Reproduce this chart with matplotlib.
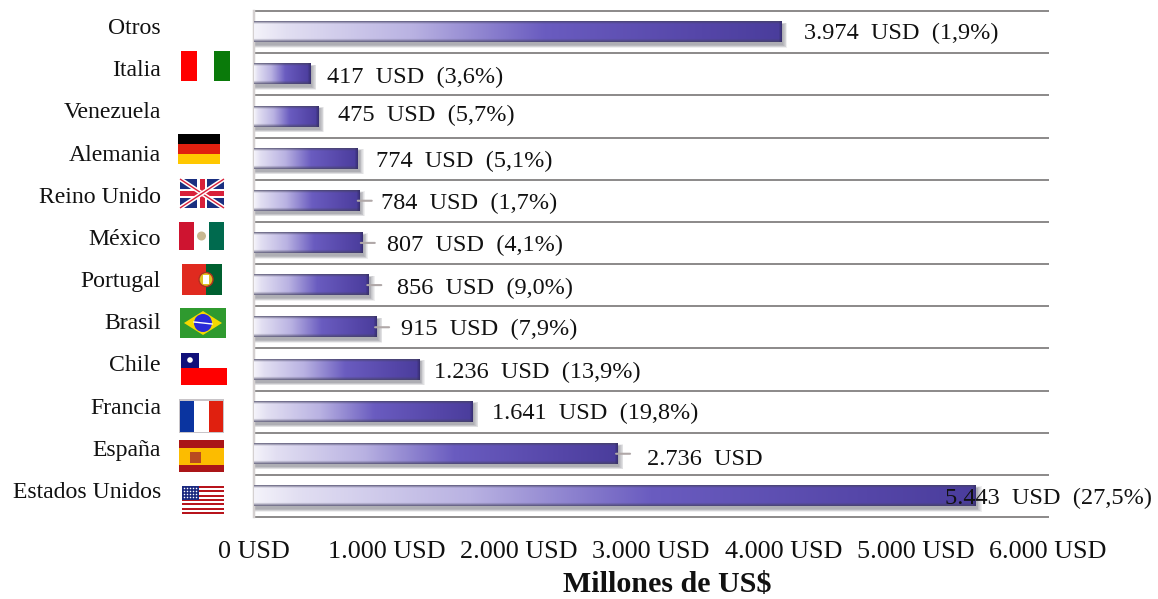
import numpy as np
import matplotlib
matplotlib.use("Agg")
import matplotlib.pyplot as plt
from matplotlib.colors import to_rgb
from matplotlib.patches import Rectangle, Polygon, Circle
from matplotlib.transforms import ScaledTranslation

plt.rcParams['font.family'] = ['Liberation Serif', 'DejaVu Serif']

# top to bottom, as in the picture
paises = ["Otros", "Italia", "Venezuela", "Alemania", "Reino Unido", "México",
          "Portugal", "Brasil", "Chile", "Francia", "España", "Estados Unidos"]
valores = [3974, 417, 475, 774, 784, 807, 856, 915, 1236, 1641, 2736, 5443]
etiquetas = ["3.974  USD  (1,9%)", "417  USD  (3,6%)", "475  USD  (5,7%)", "774  USD  (5,1%)",
             "784  USD  (1,7%)", "807  USD  (4,1%)", "856  USD  (9,0%)", "915  USD  (7,9%)",
             "1.236  USD  (13,9%)", "1.641  USD  (19,8%)", "2.736  USD", "5.443  USD  (27,5%)"]
xticks = [0, 1000, 2000, 3000, 4000, 5000, 6000]
xticklabels = ["0 USD", "1.000 USD", "2.000 USD", "3.000 USD", "4.000 USD", "5.000 USD", "6.000 USD"]

# label placement in pixels: gap from bar end, shift from the band centre, leader line or not
label_dx = [24, 18, 21, 20, 23, 26, 30, 26, 16, 21, 31, -29]
label_dy = [1, 3, -1, 3, 3, 3, 3, 2, 3, 2, 6, 3]
leader = [0, 0, 0, 0, 1, 1, 1, 1, 0, 0, 1, 0]

W, H = 1158, 599
L, R, T, B = 254, 1048, 11, 517
PX = 0.72  # points per pixel at dpi 100

TEXT_SIZE = 17.5

fig = plt.figure(figsize=(W / 100, H / 100), dpi=100)
ax = fig.add_axes([L / W, 1 - B / H, (R - L) / W, (B - T) / H])
n = len(paises)
ax.set_xlim(0, 6000)
ax.set_ylim(n - 0.5, -0.5)
ax.set_facecolor("none")

for s in ["top", "right", "bottom"]:
    ax.spines[s].set_visible(False)
ax.spines["left"].set_color("#d4d0d0")
ax.spines["left"].set_linewidth(2.5 * PX)

ax.set_yticks(np.arange(-0.5, n), minor=True)
ax.grid(which="minor", axis="y", color="#8e8c8c", lw=2 * PX)
ax.set_axisbelow(True)
ax.tick_params(which="both", length=0)
for t in ax.yaxis.get_minor_ticks():
    t.gridline.set_clip_on(False)

ax.set_xticks(xticks, xticklabels, fontsize=18.8, color="#111111")
ax.tick_params(axis="x", pad=(541 - B) * PX)
ax.set_xlabel("Millones de US$", fontsize=21.6, fontweight="bold", color="#111111")
ax.xaxis.set_label_coords((667 - L) / (R - L), -(585 - B) / (B - T), transform=ax.transAxes)
ax.xaxis.label.set_va("center")

ax.set_yticks(range(n), paises, fontsize=17.1, color="#111111")
ax.tick_params(axis="y", pad=(L - 161) * PX)
shift = ScaledTranslation(0, 6 / 100, fig.dpi_scale_trans)
for lab in ax.get_yticklabels():
    lab.set_transform(lab.get_transform() + shift)

bars = ax.barh(range(n), valores, height=0.48, color="none", zorder=3)

stops_x = [0, 0.06, 0.3, 0.55, 0.85, 1]
stops_c = [to_rgb(c) for c in ["#f4f3fa", "#e2dff2", "#b9b2e2", "#6a5cc0", "#5546a8", "#4a3d9c"]]
xu = (6000 / (R - L))  # data units per pixel
yu = (n / (B - T))

for bar in bars:
    w, y0, h = bar.get_width(), bar.get_y(), bar.get_height()
    w2 = w + 1.5 * xu
    # soft shadow down and to the right
    for k in range(6, 0, -1):
        ax.add_patch(Rectangle((0, y0 + 2.5 * yu - k * yu * 0.3), w2 + (1 + k * 0.8) * xu,
                               h + k * yu * 0.8, fc="#222233", ec="none", alpha=0.07, zorder=2.5))
    nx = max(int(w2 / xu), 2)
    ny = 22
    tx = np.linspace(0, 1, nx)
    base = np.stack([np.interp(tx, stops_x, [c[i] for c in stops_c]) for i in range(3)], axis=1)
    img = np.repeat(base[None, :, :], ny, axis=0)
    # dark rim on top, bottom and right end
    ty = np.linspace(0, 1, ny)
    rim = np.clip(np.maximum(1 - ty / 0.12, (ty - 0.85) / 0.15), 0, 1)[:, None, None] * 0.7
    img = img * (1 - rim) + np.array([0.27, 0.26, 0.38]) * rim
    rim2 = np.clip((tx - (1 - 3.0 / nx)) / (3.0 / nx), 0, 1)[None, :, None] * 0.7
    img = img * (1 - rim2) + np.array([0.2, 0.17, 0.4]) * rim2
    ax.imshow(img, extent=(0, w2, y0 + h, y0), aspect="auto", zorder=3, interpolation="bilinear")

ax.set_xlim(0, 6000)
ax.set_ylim(n - 0.5, -0.5)

for i, v in enumerate(valores):
    ax.annotate(etiquetas[i], (v, i), xytext=(label_dx[i] * PX, -label_dy[i] * PX),
                textcoords="offset points", va="center", ha="left",
                fontsize=TEXT_SIZE, color="#111111", zorder=6)
    if leader[i]:
        ax.annotate("", (v, i), xytext=(min(label_dx[i] - 6, 14) * PX, 0), textcoords="offset points",
                    arrowprops=dict(arrowstyle="-", color="#b0a8a8", lw=1.5, shrinkA=0, shrinkB=0),
                    zorder=5)

# flags drawn in pixel space on a full-figure overlay
fl = fig.add_axes([0, 0, 1, 1])
fl.set_xlim(0, W)
fl.set_ylim(H, 0)
fl.axis("off")
fl.patch.set_alpha(0)


def rect(x0, y0, x1, y1, c):
    fl.add_patch(Rectangle((x0, y0), x1 - x0, y1 - y0, fc=c, ec="none"))


def vstripes(x0, y0, x1, y1, cols):
    d = (x1 - x0) / len(cols)
    for k, c in enumerate(cols):
        rect(x0 + k * d, y0, x0 + (k + 1) * d, y1, c)


def hstripes(x0, y0, x1, y1, cols):
    d = (y1 - y0) / len(cols)
    for k, c in enumerate(cols):
        rect(x0, y0 + k * d, x1, y0 + (k + 1) * d, c)


vstripes(181, 51, 230, 81, ["#ff0000", "#ffffff", "#0a7a0a"])
hstripes(178, 134, 220, 164, ["#000000", "#e0200f", "#ffc800"])

# Reino Unido
rect(180, 179, 224, 208, "#1a2f80")
for a, b in [((180, 179), (224, 208)), ((180, 208), (224, 179))]:
    fl.plot([a[0], b[0]], [a[1], b[1]], color="#ffffff", lw=3.2, solid_capstyle="butt")
    fl.plot([a[0], b[0]], [a[1], b[1]], color="#d8203a", lw=1, solid_capstyle="butt")
rect(197, 179, 207, 208, "#ffffff")
rect(180, 189, 224, 198, "#ffffff")
rect(200, 179, 205, 208, "#d8203a")
rect(180, 191, 224, 196, "#d8203a")

# México
vstripes(179, 222, 224, 250, ["#ce1430", "#ffffff", "#006a4e"])
fl.add_patch(Circle((201.5, 236), 4.5, fc="#c8b890", ec="none"))

# Portugal
rect(182, 264, 206, 295, "#e02a1f")
rect(206, 264, 222, 295, "#006030")
fl.add_patch(Circle((206, 279.5), 7, fc="#e0c020", ec="#b03020", lw=1))
rect(203, 275, 209, 284, "#ffffff")

# Brasil
rect(180, 308, 226, 338, "#2f9a2f")
fl.add_patch(Polygon([(184, 323), (203, 311), (222, 323), (203, 335)], fc="#f5d800", ec="none"))
fl.add_patch(Circle((203, 323), 9, fc="#2a2ad8", ec="none"))
fl.plot([194, 212], [322, 324], color="#ffffff", lw=1)

# Chile
rect(181, 353, 227, 368, "#ffffff")
rect(181, 368, 227, 385, "#ff0000")
rect(181, 353, 199, 368, "#10107a")
fl.add_patch(Circle((190, 360), 2.8, fc="#ffffff", ec="none"))

# Francia, with its thin grey frame
rect(179, 399, 224, 433, "#c8c4c8")
vstripes(180, 401, 223, 432, ["#0a34a0", "#ffffff", "#e0200f"])

# España
rect(179, 440, 224, 472, "#aa1518")
rect(179, 448, 224, 465, "#fcbc00")
rect(190, 452, 201, 463, "#b84a20")

# Estados Unidos
hstripes(182, 486, 224, 514, ["#b8141c", "#ffffff"] * 6 + ["#b8141c"])
rect(182, 486, 199, 500, "#1c2a80")
xs, ys = np.meshgrid(np.arange(184, 199, 3), np.arange(488, 500, 3))
fl.scatter(xs.ravel(), ys.ravel(), s=1.2, c="#ffffff", linewidths=0)

fig.savefig("out.png", dpi=100, facecolor="white")
